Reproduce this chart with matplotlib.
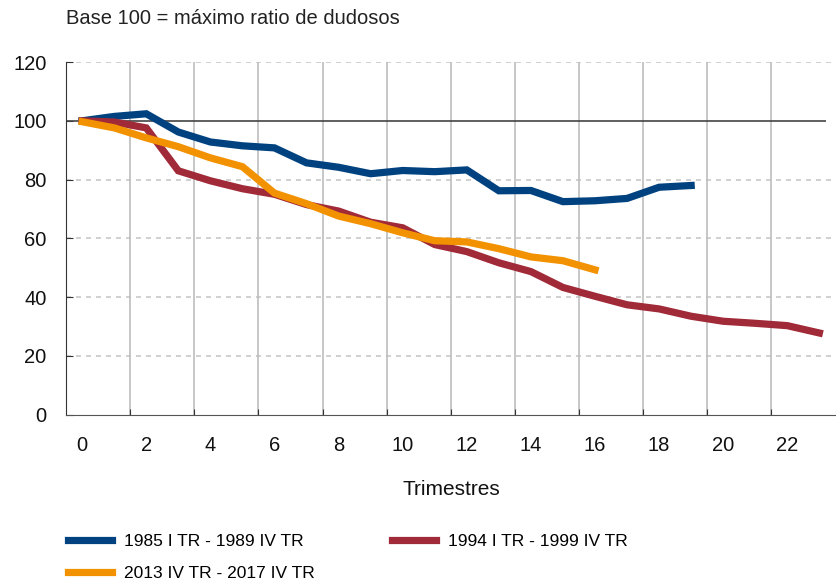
import matplotlib.pyplot as plt
import numpy as np

plt.rcParams['font.family'] = ['Liberation Sans', 'DejaVu Sans']

# Data (base 100 = max doubtful loans ratio)
serie_1985 = [100, 101.5, 102.4, 96.2, 92.8, 91.5, 90.8, 85.7, 84.2, 82.0,
              83.1, 82.7, 83.3, 76.2, 76.3, 72.5, 72.8, 73.6, 77.4, 78.0]
serie_1994 = [100, 99.6, 97.6, 83.0, 79.6, 76.9, 75.0, 71.5, 69.3, 65.5,
              63.6, 57.9, 55.5, 51.7, 48.7, 43.3, 40.3, 37.4, 36.0, 33.5,
              31.8, 31.1, 30.3, 27.8]
serie_2013 = [99.7, 97.6, 94.2, 91.2, 87.4, 84.4, 75.4, 71.8, 67.6, 65.0,
              61.9, 59.2, 58.8, 56.5, 53.7, 52.4, 49.3]
labels = ['1985 I TR - 1989 IV TR', '1994 I TR - 1999 IV TR', '2013 IV TR - 2017 IV TR']
colors = ['#00427F', '#A12A38', '#F39200']

fig = plt.figure(figsize=(8.37, 5.8), dpi=100)
ax = fig.add_axes([0.079, 0.285, 0.921, 0.608])

# grid
for yv in [20, 40, 60, 80, 120]:
    ax.axhline(yv, color='#c8c8c8', lw=1.2, ls=(0, (3, 3)), zorder=1)
for xv in np.arange(1.5, 22.6, 2):
    ax.axvline(xv, color='#bdbdbd', lw=1.2, zorder=1)
ax.hlines(100, -0.5, 23.2, color='#444444', lw=1.2, zorder=2)

lines = []
for data, lab, col in zip([serie_1985, serie_1994, serie_2013], labels, colors):
    l, = ax.plot(np.arange(len(data)), data, color=col, lw=5.2, label=lab,
                 solid_joinstyle='miter', zorder=3)
    lines.append(l)

ax.set_xlim(-0.5, 23.55)
ax.set_ylim(0, 120)
ax.set_yticks(range(0, 121, 20))
ax.set_xticks(np.arange(1.5, 22.6, 2))
ax.set_xticklabels([])
ax.set_xticks(np.arange(0, 23, 2), minor=True)
ax.set_xticklabels([str(i) for i in range(0, 23, 2)], minor=True)
ax.tick_params(axis='x', which='major', direction='in', length=4, color='#333333')
ax.tick_params(axis='x', which='minor', length=0, pad=15, labelsize=14.5, colors='#111111')
ax.tick_params(axis='y', direction='in', length=5, pad=14, labelsize=14.5, colors='#111111',
               color='#333333')

for s in ['top', 'right']:
    ax.spines[s].set_visible(False)
ax.spines['left'].set_color('#333333')
ax.spines['bottom'].set_color('#555555')

ax.set_xlabel('Trimestres', fontsize=15, labelpad=18, color='#111111')
fig.text(0.079, 0.968, 'Base 100 = máximo ratio de dudosos', fontsize=14.5,
         color='#222222', va='center')

fig.legend([lines[0], lines[2], lines[1]], [labels[0], labels[2], labels[1]],
           ncol=2, loc='upper left', bbox_to_anchor=(0.073, 0.091), frameon=False,
           fontsize=12.5, handlelength=2.55, handletextpad=0.7, columnspacing=4.4,
           labelspacing=0.95, borderaxespad=0)

fig.savefig('out.png', dpi=100)
